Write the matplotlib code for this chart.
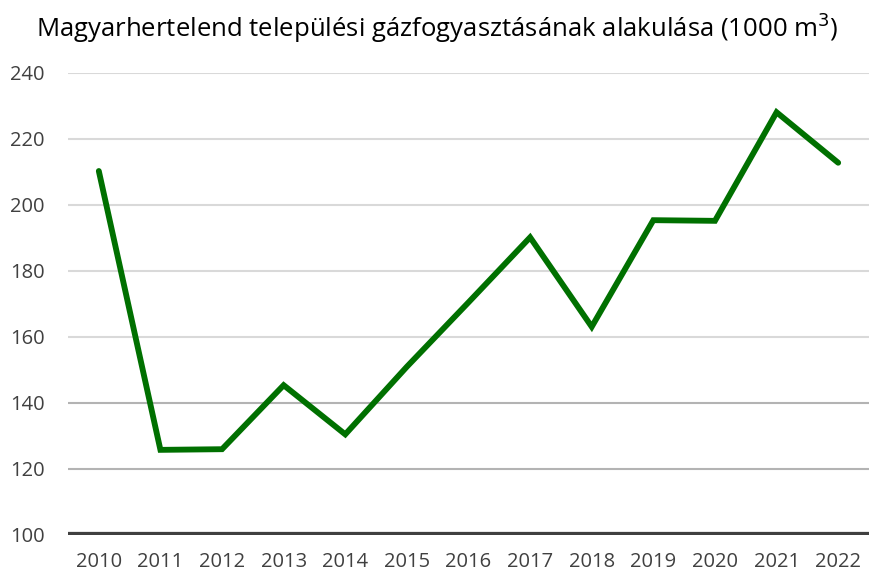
import matplotlib
matplotlib.use("Agg")
import matplotlib.pyplot as plt

years = ["2010", "2011", "2012", "2013", "2014", "2015", "2016",
         "2017", "2018", "2019", "2020", "2021", "2022"]
consumption = [210.3, 125.8, 126.0, 145.4, 130.5, 151.0, 170.5,
               190.2, 163.1, 195.4, 195.2, 228.1, 212.8]
y_ticks = [100, 120, 140, 160, 180, 200, 220, 240]

plt.rcParams['font.family'] = ['Open Sans', 'DejaVu Sans']

fig = plt.figure(figsize=(8.69, 5.73), dpi=100)
ax = fig.add_axes([68 / 869, 1 - 535 / 573, 801 / 869, 462 / 573])

x = list(range(len(years)))
for t in y_ticks[1:]:
    shade = "#b3b3b3" if t in (120, 140) else "#d9d9d9"
    ax.axhline(t, color=shade, linewidth=1.5, zorder=1)
ax.axhline(100, color="#404040", linewidth=4.5, zorder=3, solid_capstyle="butt")

ax.plot(x, consumption, color="#007000", linewidth=4.2, zorder=4,
        solid_joinstyle="miter", solid_capstyle="round")

ax.set_xlim(-0.5, len(years) - 0.5)
ax.set_ylim(100, 240)
ax.set_xticks(x)
ax.set_xticklabels(years)
ax.set_yticks(y_ticks)
ax.tick_params(axis="both", length=0, labelsize=14.5, colors="#404040")
ax.tick_params(axis="x", pad=12.5)
ax.tick_params(axis="y", pad=41.5)
for lbl in ax.get_yticklabels():
    lbl.set_horizontalalignment("left")
for s in ax.spines.values():
    s.set_visible(False)

fig.text(0.5 + 3 / 869, 1 - 28 / 573, "Magyarhertelend települési gázfogyasztásának alakulása (1000 m$^3$)",
         ha="center", va="center", fontsize=18.5, color="#000000")

fig.savefig("out.png", dpi=100)
